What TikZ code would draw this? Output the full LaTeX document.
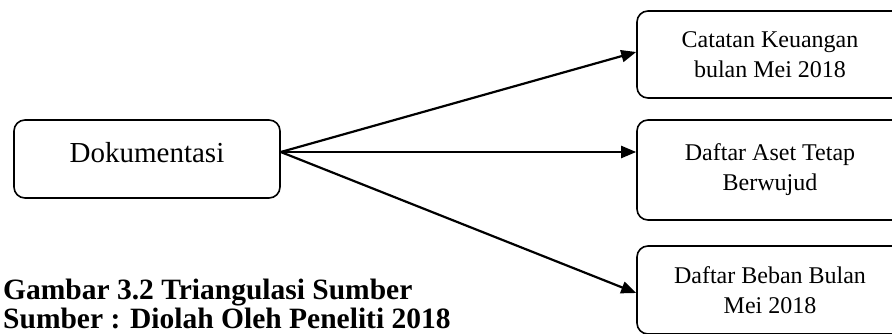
\documentclass[tikz,border=0pt]{standalone}
\usepackage{fontspec}
\setmainfont{Liberation Serif}
\usetikzlibrary{arrows.meta}
\begin{document}
\begin{tikzpicture}[x=1pt,y=-1pt,
  rbox/.style={draw, line width=1.6pt, rounded corners=11pt, inner sep=0pt},
  small/.style={font=\fontsize{24}{30}\selectfont, align=center},
  conn/.style={line width=2.2pt, -{Triangle[length=15pt,width=12pt]}},
  captext/.style={font=\fontsize{29.5}{32}\selectfont\bfseries, anchor=base west, inner sep=0pt}]
\useasboundingbox (0,0) rectangle (892,333);
\clip (0,0) rectangle (892,333);
\node[rbox, minimum width=266pt, minimum height=78pt, font=\fontsize{29}{34}\selectfont, text depth=14pt] (doc) at (147,159) {Dokumentasi};
\node[rbox, small, minimum width=266pt, minimum height=87pt] (cat) at (770,54.5) {Catatan Keuangan\\bulan Mei 2018};
\node[rbox, small, minimum width=266pt, minimum height=100pt] (aset) at (770,170) {Daftar Aset Tetap\\Berwujud};
\node[rbox, small, minimum width=266pt, minimum height=88pt] (beban) at (770,290) {Daftar Beban Bulan\\Mei 2018};
\coordinate (src) at ([yshift=7pt]doc.east);
\draw[conn] (src) -- ([yshift=2.5pt]cat.west);
\draw[conn] (src) -- (aset.west |- src);
\draw[conn] (src) -- ([yshift=-3pt]beban.west);
\node[captext] (cap1) at (3,299) {Gambar 3.2 Triangulasi Sumber};
\node[captext] (cap2) at (3,328) {Sumber : Diolah Oleh Peneliti 2018};
\end{tikzpicture}
\end{document}
